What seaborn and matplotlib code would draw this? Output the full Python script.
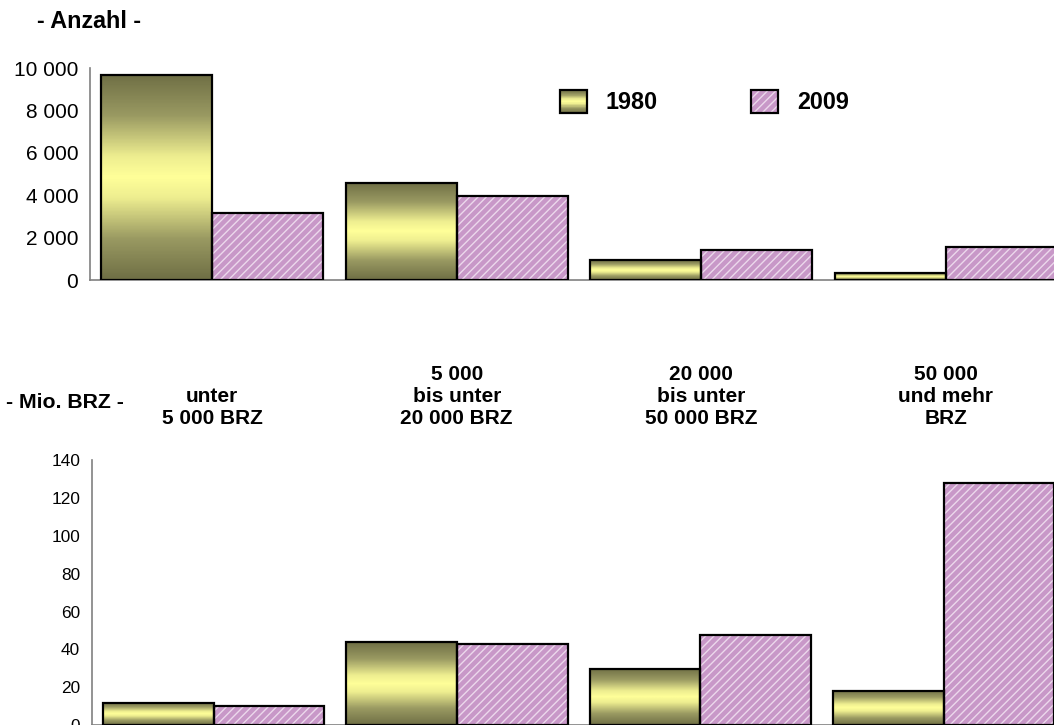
import numpy as np
import pandas as pd
import matplotlib
matplotlib.use("Agg")
import matplotlib.pyplot as plt
import seaborn as sns
from matplotlib.patches import Rectangle, Patch
from matplotlib.colors import LinearSegmentedColormap
from matplotlib import transforms
from matplotlib.ticker import FuncFormatter

# --------------------------------------------
# Data
# --------------------------------------------
categories = ["unter\n5 000 BRZ",
              "5 000\nbis unter\n20 000 BRZ",
              "20 000\nbis unter\n50 000 BRZ",
              "50 000\nund mehr\nBRZ"]
years = ["1980", "2009"]
anzahl_1980 = [9670, 4580, 940, 330]
anzahl_2009 = [3160, 3960, 1420, 1560]
brz_1980 = [11.9, 43.8, 29.8, 18.2]
brz_2009 = [10.1, 42.7, 47.8, 127.7]

anzahl = pd.DataFrame({
    "Klasse": categories * 2,
    "Jahr": [years[0]] * 4 + [years[1]] * 4,
    "Wert": anzahl_1980 + anzahl_2009,
})
brz = pd.DataFrame({
    "Klasse": categories * 2,
    "Jahr": [years[0]] * 4 + [years[1]] * 4,
    "Wert": brz_1980 + brz_2009,
})

# --------------------------------------------
# Style
# --------------------------------------------
sns.set_style("white")
plt.rcParams["font.family"] = ["Liberation Sans", "DejaVu Sans"]
plt.rcParams["text.color"] = "black"
plt.rcParams["hatch.linewidth"] = 1.0

lilac = "#c898c8"
hatch_col = "#ecd8ec"
grey = "#808080"
olive_cmap = LinearSegmentedColormap.from_list(
    "olive", [(0.0, "#6f6f45"), (0.2, "#9a9a62"), (0.4, "#eeee90"), (0.5, "#ffff99"),
              (0.6, "#eeee90"), (0.8, "#9a9a62"), (1.0, "#6f6f45")])
hatch = "////"

W, H = 1054, 725
fig = plt.figure(figsize=(W / 100, H / 100), dpi=100)

# axes placed in pixel units: left axis line, group pitch, top / bottom of y range
ax1 = fig.add_axes([90 / W, 1 - 280 / H, 4 * 244.5 / W, 212 / H])
ax2 = fig.add_axes([92 / W, 1 - 725.2 / H, 4 * 243.3 / W, 265.2 / H])

grad = np.linspace(0, 1, 200).reshape(-1, 1)


def style_bars(ax):
    c1980, c2009 = ax.containers[0], ax.containers[1]
    for p in c1980:
        x0, y0 = p.get_x(), p.get_y()
        w, h = p.get_width(), p.get_height()
        p.set_facecolor("none")
        p.set_edgecolor("none")
        ax.imshow(grad, cmap=olive_cmap, aspect="auto", origin="lower",
                  extent=(x0, x0 + w, y0, y0 + h), zorder=2, interpolation="bilinear")
        ax.add_patch(Rectangle((x0, y0), w, h, fill=False, edgecolor="black",
                               linewidth=1.6, zorder=4))
    for p in c2009:
        x0, y0 = p.get_x(), p.get_y()
        w, h = p.get_width(), p.get_height()
        p.set_facecolor(lilac)
        p.set_edgecolor(hatch_col)
        p.set_hatch(hatch)
        p.set_linewidth(0)
        p.set_zorder(2)
        ax.add_patch(Rectangle((x0, y0), w, h, fill=False, edgecolor="black",
                               linewidth=1.6, zorder=4))


def style_axis(ax, ymax, step, size):
    ax.set_xlim(-0.5, 3.5)
    ax.set_ylim(0, ymax)
    ax.set_yticks(np.arange(0, ymax + 1, step))
    ax.yaxis.set_major_formatter(FuncFormatter(lambda v, pos: f"{int(v):,}".replace(",", " ")))
    ax.set_xticks([])
    ax.set_xlabel("")
    ax.set_ylabel("")
    ax.tick_params(axis="y", direction="inout", length=9, width=1, color=grey,
                   labelsize=size, labelcolor="black", pad=4)
    for s in ["top", "right"]:
        ax.spines[s].set_visible(False)
    for s in ["left", "bottom"]:
        ax.spines[s].set_color(grey)
        ax.spines[s].set_linewidth(1.2)
        ax.spines[s].set_zorder(1)
    ax.patch.set_alpha(0)


sns.barplot(data=anzahl, x="Klasse", y="Wert", hue="Jahr", order=categories,
            hue_order=years, width=0.91, legend=False, ax=ax1)
sns.barplot(data=brz, x="Klasse", y="Wert", hue="Jahr", order=categories,
            hue_order=years, width=0.91, legend=False, ax=ax2)
style_bars(ax1)
style_bars(ax2)
style_axis(ax1, 10000, 2000, 15)
style_axis(ax2, 140, 20, 12.4)

# titles
fig.text(37 / W, 1 - 21 / H, "- Anzahl -", fontsize=16.8, fontweight="bold", va="center")
fig.text(6 / W, 1 - 403 / H, "- Mio. BRZ -", fontsize=15.3, fontweight="bold", va="center")

# category labels between the two charts
trans = transforms.blended_transform_factory(ax1.transData, fig.transFigure)
for i, lab in enumerate(categories):
    ax1.text(i, 1 - 428 / H, lab, transform=trans, ha="center", va="bottom",
             fontsize=15, fontweight="bold", linespacing=1.2)


# legend with gradient / hatched handles
class BoxHandler:
    def __init__(self, kind):
        self.kind = kind

    def legend_artist(self, legend, orig_handle, fontsize, handlebox):
        x0, y0 = -handlebox.xdescent, -handlebox.ydescent
        w, h = handlebox.width, handlebox.height
        tr = handlebox.get_transform()
        if self.kind == "grad":
            n = 40
            for k in range(n):
                handlebox.add_artist(Rectangle((x0, y0 + k * h / n), w, h / n + 0.3,
                                               facecolor=olive_cmap(k / (n - 1)),
                                               edgecolor="none", transform=tr))
        else:
            handlebox.add_artist(Rectangle((x0, y0), w, h, facecolor=lilac,
                                           edgecolor=hatch_col, hatch=hatch,
                                           linewidth=0, transform=tr))
        box = Rectangle((x0, y0), w, h, fill=False, edgecolor="black",
                        linewidth=1.6, transform=tr)
        handlebox.add_artist(box)
        return box


h1980 = Patch(label="1980")
h2009 = Patch(label="2009")
fig.legend(handles=[h1980, h2009], labels=years, ncol=2, frameon=False,
           loc="center left", bbox_to_anchor=(560 / W, 1 - 102 / H),
           borderpad=0, borderaxespad=0, handlelength=1.15, handleheight=1.15,
           handletextpad=0.8, columnspacing=4.02,
           prop={"size": 16.8, "weight": "bold"},
           handler_map={h1980: BoxHandler("grad"), h2009: BoxHandler("hatch")})

plt.savefig("out.png", dpi=100)
plt.close()
